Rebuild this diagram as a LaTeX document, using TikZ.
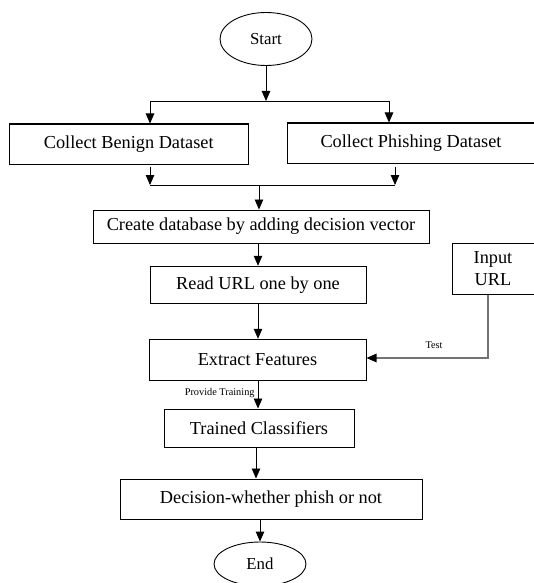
\documentclass[tikz,border=0pt]{standalone}
\usepackage{fontspec}
\setmainfont{Liberation Serif}
\usetikzlibrary{arrows.meta,shapes.geometric}
\begin{document}
\begin{tikzpicture}[x=1pt,y=-1pt,
  arr/.style={-{Triangle[width=8.5pt,length=10pt]}, line width=0.9pt},
  procbox/.style={draw, line width=1pt, inner sep=0pt, anchor=center,
    font=\fontsize{18.3}{22}\selectfont},
  terminal/.style={draw, ellipse, line width=0.9pt, inner sep=0pt, anchor=center,
    font=\fontsize{16.8}{20}\selectfont},
  smalllabel/.style={font=\fontsize{10.3}{12}\selectfont, inner sep=0pt}]
\useasboundingbox (0,0) rectangle (533,583);

% terminals
\node[terminal, minimum width=92pt, minimum height=53pt] (start) at (266,39) {Start};
\node[terminal, minimum width=92pt, minimum height=44pt] (end) at (260,564) {End};

% process boxes
\node[procbox, minimum width=238.5pt, minimum height=40pt] (benign) at (128.75,144) {Collect Benign Dataset};
\node[procbox, minimum width=248pt, minimum height=40pt] (phish) at (411,143) {Collect Phishing Dataset};
\node[procbox, minimum width=336pt, minimum height=33pt] (create) at (261,226.5) {Create database by adding decision vector};
\node[procbox, minimum width=216pt, minimum height=37.5pt] (read) at (258,285) {Read URL one by one};
\node[procbox, minimum width=217pt, minimum height=41.5pt] (extract) at (257.5,360) {Extract Features};
\node[procbox, minimum width=82pt, minimum height=51pt, align=center,
      font=\fontsize{18.3}{22}\selectfont] (input) at (493,268.5) {Input\\URL};
\node[procbox, minimum width=190pt, minimum height=38pt] (trained) at (259,428) {Trained Classifiers};
\node[procbox, minimum width=302pt, minimum height=40pt] (decision) at (271,499) {Decision-whether phish or not};

% junction points of the split and merge
\coordinate (split) at (266,101);
\coordinate (splitL) at (150,101);
\coordinate (splitR) at (389,101);
\coordinate (mergeL) at (150,185);
\coordinate (mergeR) at (395,185);
\coordinate (merge) at (259,185);
\coordinate (fromL) at (150,167);
\coordinate (fromR) at (395,167);
\coordinate (testCorner) at (488,358);

% split after Start
\draw[arr] (start.south -| split) -- (split);
\draw[line width=0.9pt] (splitL) -- (splitR);
\draw[arr] (splitL) -- (splitL |- benign.north);
\draw[arr] (splitR) -- (splitR |- phish.north);

% merge of the two datasets
\draw[arr] (fromL) -- (mergeL);
\draw[arr] (fromR) -- (mergeR);
\draw[line width=0.9pt] (mergeL) -- (mergeR);
\draw[arr] (merge) -- (merge |- create.north);

% main flow
\draw[arr] (read.north |- create.south) -- (read.north);
\draw[arr] (read.south) -- (read.south |- extract.north);
\draw[arr] (extract.south -| 258,0) -- (trained.north -| 258,0)
  node[smalllabel, pos=0.45, left=3pt] {Provide Training};
\draw[arr] (trained.south -| 256,0) -- (decision.north -| 256,0);
\draw[arr] (decision.south -| end.north) -- (end.north);

% test input path
\draw[line width=1.3pt, draw=black!55,
      -{Triangle[width=8.5pt,length=10pt,color=black]}]
  (input.south -| testCorner) -- (testCorner) -- (extract.east |- testCorner);
\node[smalllabel] (testlbl) at (434,345) {Test};
\end{tikzpicture}
\end{document}
